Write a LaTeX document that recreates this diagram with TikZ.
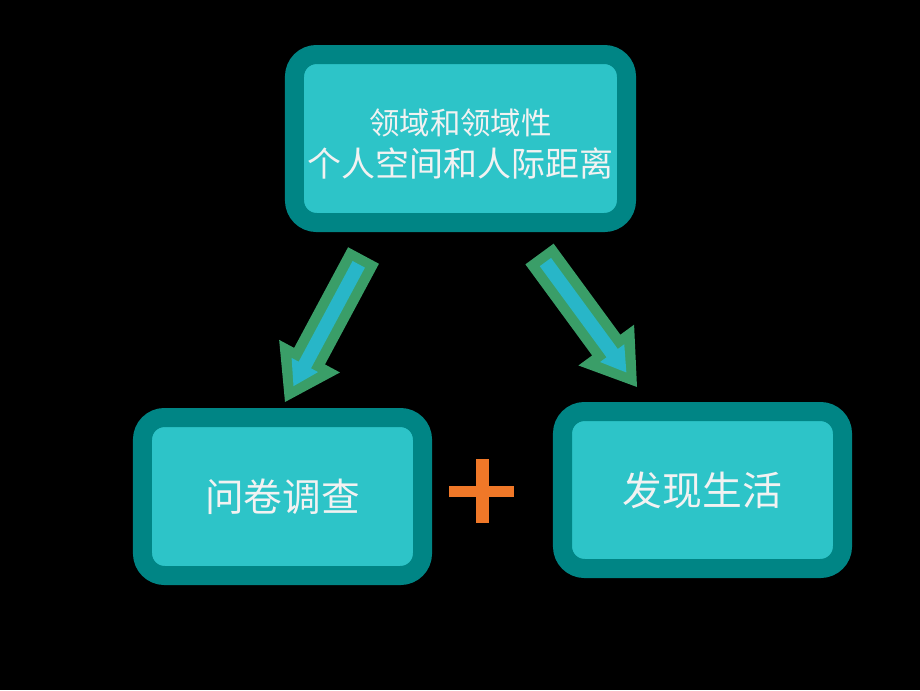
\documentclass[tikz,border=0pt]{standalone}
\usepackage{fontspec}
\newfontfamily\cjk{Noto Sans CJK SC}
\usetikzlibrary{calc}
\definecolor{boxouter}{RGB}{0,133,133}
\definecolor{boxinner}{RGB}{45,196,200}
\definecolor{arrowgreen}{RGB}{58,158,104}
\definecolor{arrowcyan}{RGB}{40,182,200}
\definecolor{plusorange}{RGB}{240,120,40}
\definecolor{textwhite}{RGB}{242,242,242}
% block arrow from tail #1 to tip #2
\newcommand{\BlockArrow}[2]{%
  \coordinate (#1-neck) at ($(#2)!1.56cm!(#1)$);
  \coordinate (#1-in) at ($(#1)!0.3cm!(#2)$);
  \coordinate (#2-in) at ($(#2)!0.54cm!(#1)$);
  \coordinate (#1-inneck) at ($(#1-neck)!0.3cm!(#2)$);
  \fill[arrowgreen] ($(#1)!0.525cm!90:(#2)$) -- ($(#1-neck)!0.525cm!90:(#2)$)
    -- ($(#1-neck)!1.035cm!90:(#2)$) -- (#2) -- ($(#1-neck)!1.035cm!-90:(#2)$)
    -- ($(#1-neck)!0.525cm!-90:(#2)$) -- ($(#1)!0.525cm!-90:(#2)$) -- cycle;
  \fill[arrowcyan] ($(#1-in)!0.21cm!90:(#2)$) -- ($(#1-inneck)!0.21cm!90:(#2)$)
    -- ($(#1-inneck)!0.45cm!90:(#2)$) -- (#2-in) -- ($(#1-inneck)!0.45cm!-90:(#2)$)
    -- ($(#1-inneck)!0.21cm!-90:(#2)$) -- ($(#1-in)!0.21cm!-90:(#2)$) -- cycle;
}

\begin{document}
\begin{tikzpicture}[x=0.03cm,y=-0.03cm,
    topicbox/.style={draw=boxouter,fill=boxinner,line width=0.57cm,rounded corners=0.66cm,
      inner sep=0pt,text=textwhite,align=center,font=\cjk},
    ]
  \fill[black] (0,0) rectangle (920,690);

  \node[topicbox,minimum width=9.96cm,minimum height=5.04cm] (topic) at (460.5,138.5)
    {\fontsize{26}{33}\selectfont\rule{0pt}{32pt}领域和领域性\\[8pt]\fontsize{29}{33}\selectfont 个人空间和人际距离};
  \node[topicbox,minimum width=8.4cm,minimum height=4.74cm] (survey) at (282.5,496.5)
    {\fontsize{33}{40}\selectfont 问卷调查};
  \node[topicbox,minimum width=8.4cm,minimum height=4.71cm] (life) at (702.5,490)
    {\fontsize{34}{40}\selectfont 发现生活};

  \coordinate (ltail) at (363.5,255.5);
  \coordinate (ltip) at (285,402);
  \coordinate (rtail) at (539.5,254);
  \coordinate (rtip) at (637,387);
  \BlockArrow{ltail}{ltip}
  \BlockArrow{rtail}{rtip}

  \coordinate (plus) at (482,491);
  \fill[plusorange] ($(plus)+(-33,-5.5)$) rectangle ($(plus)+(32,5.5)$);
  \fill[plusorange] ($(plus)+(-6,-32)$) rectangle ($(plus)+(7,32)$);
\end{tikzpicture}
\end{document}
